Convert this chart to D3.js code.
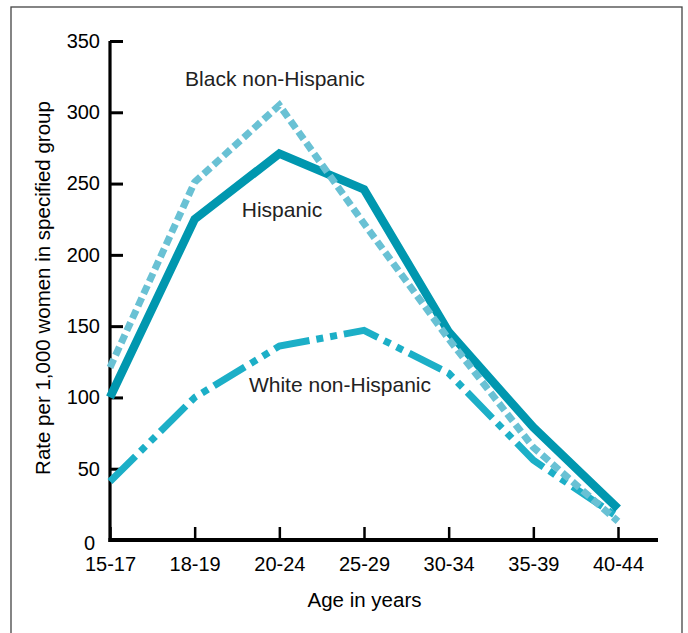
<!DOCTYPE html>
<html>
<head>
<meta charset="utf-8">
<script src="https://cdn.jsdelivr.net/npm/d3@7"></script>
<style>
  body { margin: 0; background: #fff; }
  text { font-family: "Liberation Sans", Arial, Helvetica, sans-serif; }
</style>
</head>
<body>
<svg id="chart"></svg>
<script>
// data
const ages = ['15-17', '18-19', '20-24', '25-29', '30-34', '35-39', '40-44'];
const hispanic = [100, 225, 271, 246, 146, 79, 22];
const blackNH = [121, 251, 305, 222, 141, 65, 13];
const whiteNH = [41, 100, 136, 147, 117, 56, 16];
const yTicks = [0, 50, 100, 150, 200, 250, 300, 350];

const W = 688, H = 633;
const svg = d3.select('#chart').attr('width', W).attr('height', H);

// frame
svg.append('rect')
  .attr('x', 11).attr('y', 7).attr('width', 671).attr('height', 660)
  .attr('fill', 'none').attr('stroke', '#444').attr('stroke-width', 1.3);

const x = d3.scalePoint().domain(ages).range([110, 618]);
const y = d3.scaleLinear().domain([0, 350]).range([540, 41]);

// y axis
const yAxis = d3.axisLeft(y).tickValues(yTicks).tickSizeInner(-13).tickSizeOuter(0).tickPadding(10);
const gy = svg.append('g').attr('transform', 'translate(110,0)').call(yAxis);
gy.select('.domain').remove();
gy.selectAll('.tick line').attr('stroke', '#000').attr('stroke-width', 3);
gy.selectAll('.tick text').attr('font-size', 20).attr('fill', '#000');
gy.selectAll('.tick').filter(d => d === 0).select('text').attr('dx', -5).attr('dy', '0.45em');

// x axis
const xAxis = d3.axisBottom(x).tickSizeInner(-13).tickSizeOuter(0).tickPadding(17);
const gx = svg.append('g').attr('transform', 'translate(0,540)').call(xAxis);
gx.select('.domain').remove();
gx.selectAll('.tick line').attr('stroke', '#000').attr('stroke-width', 2.5);
gx.selectAll('.tick text').attr('font-size', 20).attr('fill', '#000');

// axis lines
svg.append('line').attr('x1', 110).attr('x2', 110).attr('y1', y(350)).attr('y2', 542)
  .attr('stroke', '#000').attr('stroke-width', 3.2);
svg.append('line').attr('x1', 108.4).attr('x2', 658).attr('y1', 540).attr('y2', 540)
  .attr('stroke', '#000').attr('stroke-width', 4);

// lines
const line = d3.line().x((d, i) => x(ages[i])).y(d => y(d));

svg.append('path').datum(whiteNH).attr('d', line)
  .attr('fill', 'none').attr('stroke', '#1cafc7').attr('stroke-width', 7)
  .attr('stroke-dasharray', '36,7,7,7,7,7');

svg.append('path').datum(hispanic).attr('d', line)
  .attr('fill', 'none').attr('stroke', '#0097af').attr('stroke-width', 8.5)
  .attr('stroke-linejoin', 'miter');

svg.append('path').datum(blackNH).attr('d', line)
  .attr('fill', 'none').attr('stroke', '#69c1d4').attr('stroke-width', 7)
  .attr('stroke-dasharray', '9,4.5');

// labels
const lab = (tx, lx, ly) => svg.append('text').attr('x', lx).attr('y', ly)
  .attr('text-anchor', 'middle').attr('font-size', 21).attr('fill', '#222').text(tx);
lab('Black non-Hispanic', 275, 86);
lab('Hispanic', 282, 217);
lab('White non-Hispanic', 340, 392);

svg.append('text').attr('x', 364.5).attr('y', 607)
  .attr('text-anchor', 'middle').attr('font-size', 20.5).attr('fill', '#000')
  .text('Age in years');

svg.append('text').attr('transform', 'translate(50,288) rotate(-90)')
  .attr('text-anchor', 'middle').attr('font-size', 20.5).attr('fill', '#000')
  .text('Rate per 1,000 women in specified group');
</script>
</body>
</html>
